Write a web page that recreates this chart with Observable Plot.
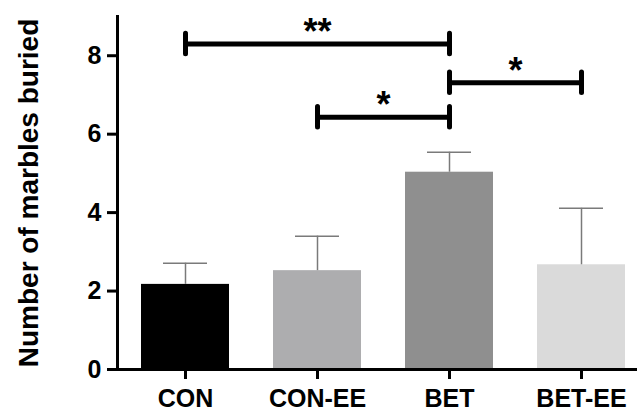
<!DOCTYPE html>
<html><head><meta charset="utf-8">
<script src="https://cdn.jsdelivr.net/npm/d3@7"></script>
<script src="https://cdn.jsdelivr.net/npm/@observablehq/plot@0.6"></script>
<style>body{margin:0;background:#fff}</style>
</head><body><div id="chart"></div>
<script>
const categories = ["CON", "CON-EE", "BET", "BET-EE"];
const means = [2.17, 2.52, 5.03, 2.67];
const errs = [0.54, 0.88, 0.51, 1.44];
const barColors = ["#000000", "#adadaf", "#8f8f8f", "#dadada"];
const sigFrom = ["CON", "CON-EE", "BET"];
const sigTo = ["BET", "BET", "BET-EE"];
const sigY = [8.30, 6.43, 7.31];
const sigLabel = ["**", "*", "*"];
const yTicks = [0, 2, 4, 6, 8];
const yTitle = "Number of marbles buried";

const data = categories.map((c, i) => ({cat: c, mean: means[i], err: errs[i]}));
const sig = sigFrom.map((f, i) => ({from: f, to: sigTo[i], y: sigY[i], label: sigLabel[i]}));
const sigEnds = sig.flatMap(s => [{x: s.from, y: s.y}, {x: s.to, y: s.y}]);

const base = {
  width: 637, height: 412,
  marginLeft: 117, marginRight: 0, marginTop: 16, marginBottom: 43,
  x: {domain: categories, paddingInner: 0.337, paddingOuter: 0.131, align: 0.663, axis: null},
  y: {domain: [0, 9], axis: null},
  color: {domain: categories, range: barColors},
  style: {fontFamily: "'Liberation Sans', Arial, sans-serif", fontWeight: "bold", fontSize: "25px", color: "#000", background: "#fff"}
};
const probe = Plot.plot({...base, marks: [Plot.barY(data, {x: "cat", y: "mean"})]});
const sx = probe.scale("x");
const bw = sx.bandwidth;
const half = (a, b) => (sx.apply(b) - sx.apply(a)) / 2;

const errColor = "#7a7a7a";
const marks = [
  Plot.barY(data, {x: "cat", y: "mean", fill: "cat"}),
  Plot.ruleX(data, {x: "cat", y1: "mean", y2: d => d.mean + d.err, stroke: errColor, strokeWidth: 1.5}),
  Plot.tickY(data, {x: "cat", y: d => d.mean + d.err, stroke: errColor, strokeWidth: 1.5, insetLeft: bw / 4, insetRight: bw / 4}),
  Plot.frame({anchor: "left", strokeWidth: 3}),
  Plot.ruleY([0], {strokeWidth: 3}),
  Plot.axisX({tickSize: 10, tickPadding: 10, strokeWidth: 3, label: null, fontSize: 25}),
  Plot.axisY(yTicks, {tickSize: 10, tickPadding: 6, strokeWidth: 3, label: null, fontSize: 25}),
  Plot.text([yTitle], {text: d => d, frameAnchor: "left", rotate: -90, textAnchor: "middle", lineAnchor: "bottom", dx: -80, fontSize: 28, fontWeight: "bold"}),
  Plot.link(sig, {x1: "from", x2: "to", y1: "y", y2: "y", stroke: "#000", strokeWidth: 5}),
  Plot.ruleX(sigEnds, {x: "x", y1: d => d.y - 0.26, y2: d => d.y + 0.26, stroke: "#000", strokeWidth: 5, strokeLinecap: "round"}),
  ...sig.map(s => Plot.text([s], {x: "from", y: "y", text: "label", dx: half(s.from, s.to), lineAnchor: "bottom", dy: 0, fontSize: 36, fontWeight: "bold"}))
];

const chart = Plot.plot({...base, marks});
document.getElementById("chart").appendChild(chart);
</script>
</body></html>
